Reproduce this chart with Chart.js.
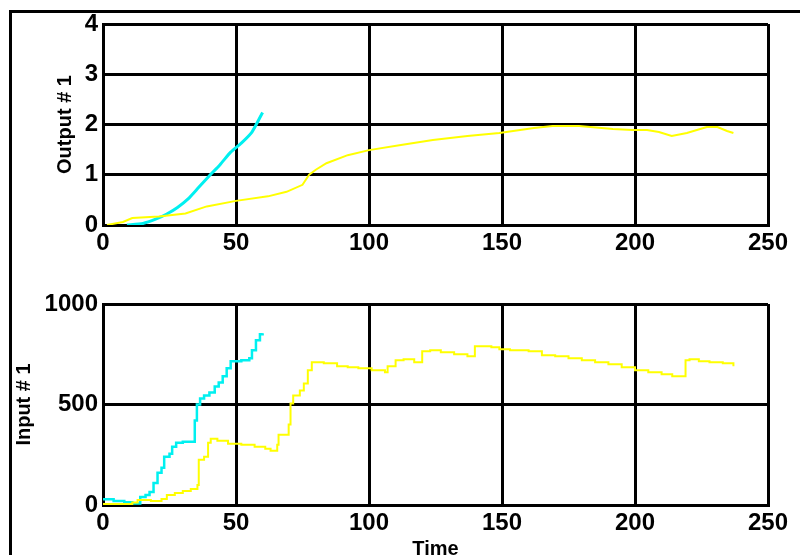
<!DOCTYPE html>
<html>
<head>
<meta charset="utf-8">
<script src="https://cdn.jsdelivr.net/npm/chart.js@4"></script>
<style>
  html, body { margin: 0; padding: 0; background: #fff; overflow: hidden; }
  body { width: 800px; height: 555px; position: relative; }
  #frame { position: absolute; left: 9px; top: 10px; width: 820px; height: 600px; border: 3px solid #000; }
  .box { position: absolute; left: 0; }
</style>
</head>
<body>
<div id="frame"></div>
<div class="box" style="top:0"><canvas id="outputChart" width="800" height="280"></canvas></div>
<div class="box" style="top:280px"><canvas id="inputChart" width="800" height="300"></canvas></div>
<script>
// shared x ticks
const timeTicks = [0, 50, 100, 150, 200, 250];
const outputTicks = [0, 1, 2, 3, 4];
const inputTicks = [0, 500, 1000];

// Output # 1 (top)
const outCyanT = [9, 15, 20, 24, 28, 32, 36, 40, 44, 48, 52, 56, 60];
const outCyanY = [0, 0.03, 0.12, 0.22, 0.35, 0.52, 0.75, 0.98, 1.2, 1.45, 1.63, 1.85, 2.24];
const outYellowT = [1.5, 7.5, 11, 21, 31, 39, 50, 62, 69, 75, 77.5, 80, 84, 92, 100, 112, 124, 137, 149, 162, 169, 179, 191.7, 199, 204.5, 209, 213.8, 219.5, 227, 231, 234.6, 237];
const outYellowY = [0, 0.06, 0.14, 0.17, 0.23, 0.37, 0.48, 0.57, 0.66, 0.8, 1.0, 1.1, 1.23, 1.39, 1.49, 1.59, 1.69, 1.77, 1.83, 1.93, 1.97, 1.97, 1.91, 1.89, 1.89, 1.85, 1.77, 1.83, 1.95, 1.95, 1.87, 1.83];

// Input # 1 (bottom), step values
const inCyanT = [0, 4, 8, 11, 14, 16, 17.5, 19, 20.5, 22, 23, 25, 26, 27.5, 30, 34.5, 35.3, 36.5, 38, 40, 42, 43.5, 45, 46.5, 48, 52, 55, 56, 57.5, 59, 60];
const inCyanY = [28, 20, 14, 8, 40, 50, 65, 110, 160, 185, 240, 255, 290, 310, 315, 420, 500, 530, 545, 560, 590, 610, 640, 680, 715, 720, 730, 770, 820, 850, 855];
const inYellowT = [0, 11, 13, 18, 22, 24, 27, 30, 33, 35.5, 36, 38, 39.5, 40.5, 43, 47, 52, 57, 61, 63, 65.5, 66, 69.8, 70.5, 71.5, 74, 75.5, 77, 78.5, 83, 88, 92, 96, 101, 106, 107, 110, 113, 117, 120, 123, 127, 132, 137, 139.8, 146, 149, 153, 160, 165, 170, 175, 180, 185, 190, 195, 200, 205, 210, 214, 219, 220.5, 224, 228, 233, 237];
const inYellowY = [5, 12, 25, 20, 30, 50, 60, 70, 80, 100, 225, 240, 310, 330, 320, 305, 300, 290, 280, 270, 300, 350, 400, 505, 545, 570, 605, 670, 710, 705, 690, 685, 680, 670, 660, 690, 720, 725, 710, 765, 770, 760, 750, 740, 790, 785, 775, 770, 765, 745, 740, 730, 720, 710, 700, 685, 670, 660, 650, 640, 720, 725, 715, 710, 705, 690];

const pts = (xs, ys) => xs.map((x, i) => ({ x: x, y: ys[i] }));

const tickFont = { family: "'Liberation Sans', Arial, sans-serif", size: 24, weight: "bold" };
const titleFont = { family: "'Liberation Sans', Arial, sans-serif", size: 20, weight: "bold" };

function makeChart(canvas, cfg) {
  return new Chart(canvas, {
    type: "line",
    data: { datasets: cfg.datasets },
    options: {
      responsive: false,
      animation: false,
      events: [],
      layout: { padding: { top: 24, right: 32, left: 0, bottom: 0 } },
      plugins: { legend: { display: false }, tooltip: { enabled: false } },
      elements: { point: { radius: 0 } },
      scales: {
        x: {
          type: "linear",
          min: 0,
          max: 250,
          afterBuildTicks: (s) => { s.ticks = timeTicks.map((v) => ({ value: v })); },
          afterFit: (s) => { s.height = cfg.xHeight; },
          grid: { color: "#000", lineWidth: 3, drawTicks: false },
          border: { color: "#000", width: 3 },
          ticks: { color: "#000", font: tickFont, padding: 4, maxRotation: 0, callback: (v) => String(v) },
          title: cfg.xTitle
        },
        y: {
          min: cfg.yTicks[0],
          max: cfg.yTicks[cfg.yTicks.length - 1],
          afterBuildTicks: (s) => { s.ticks = cfg.yTicks.map((v) => ({ value: v })); },
          afterFit: (s) => { s.width = 103; },
          grid: { color: "#000", lineWidth: 3, drawTicks: false },
          border: { color: "#000", width: 3 },
          ticks: { color: "#000", font: tickFont, padding: 5, callback: (v) => String(v) },
          title: {
            display: true,
            text: cfg.yTitle,
            color: "#000",
            font: titleFont,
            padding: { top: cfg.yTitlePad, bottom: 0 }
          }
        }
      }
    }
  });
}

makeChart(document.getElementById("outputChart"), {
  xHeight: 55,
  yTicks: outputTicks,
  yTitle: "Output # 1",
  yTitlePad: 53,
  xTitle: { display: false },
  datasets: [
    { data: pts(outYellowT, outYellowY), borderColor: "#ffff00", borderWidth: 2, tension: 0 },
    { data: pts(outCyanT, outCyanY), borderColor: "#00f0f0", borderWidth: 3, tension: 0.2 }
  ]
});

makeChart(document.getElementById("inputChart"), {
  xHeight: 75,
  yTicks: inputTicks,
  yTitle: "Input # 1",
  yTitlePad: 12,
  xTitle: { display: true, text: "Time", color: "#000", font: titleFont, padding: { top: 0, bottom: 19 } },
  datasets: [
    { data: pts(inYellowT, inYellowY), borderColor: "#ffff00", borderWidth: 2, stepped: true },
    { data: pts(inCyanT, inCyanY), borderColor: "#00f0f0", borderWidth: 2.5, stepped: true }
  ]
});
</script>
</body>
</html>
